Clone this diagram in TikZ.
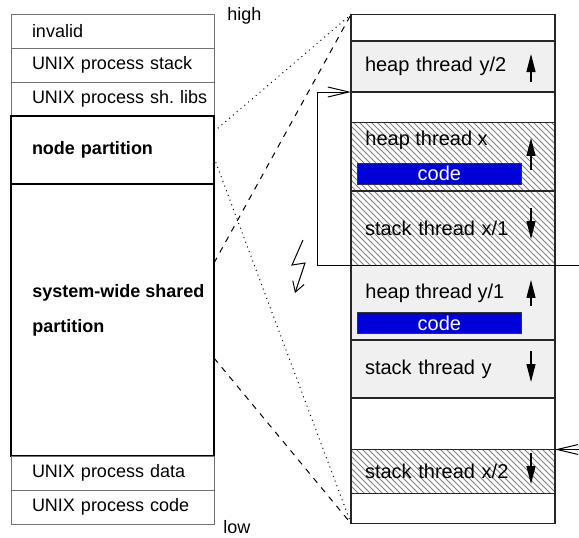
\documentclass[tikz,border=0pt]{standalone}
\usepackage{fontspec}
\setmainfont{Liberation Sans}
\usetikzlibrary{positioning, patterns, arrows.meta}

\begin{document}
\begin{tikzpicture}[x=0.5pt, y=-0.5pt,
    lbox/.style={draw=black!55, line width=0.5pt, rectangle, minimum width=101.5pt, minimum height=17pt, inner sep=0pt, outer sep=0pt, text width=101.5pt, align=left, font=\fontsize{9}{11}\selectfont, execute at begin node={\hspace*{10.5pt}}},
    partbox/.style={lbox, draw=black, line width=0.8pt, font=\fontsize{9}{11}\selectfont\bfseries},
    ltext/.style={inner sep=0pt, align=left, font=\fontsize{9}{11}\selectfont},
    rbox/.style={draw=black!85, line width=0.6pt, rectangle, minimum width=102pt, inner sep=0pt, outer sep=0pt, text width=102pt, align=left, font=\fontsize{10}{12}\selectfont, execute at begin node={\hspace*{7pt}}},
    greybox/.style={rbox, fill=black!6},
    hatched/.style={rbox, pattern=north west lines, pattern color=black!50},
    rtext/.style={inner sep=0pt, font=\fontsize{10}{12}\selectfont},
    codebox/.style={draw=black!80, line width=0.5pt, fill=blue!85!black, text=white, minimum width=81.65pt, minimum height=10.35pt, inner sep=0pt, outer sep=0pt, font=\fontsize{10}{12}\selectfont},
    growarrow/.style={-{Triangle[length=9pt, width=4.5pt]}, line width=0.6pt},
    moveline/.style={-{Straight Barb[length=10.5pt, width=5pt]}, line width=0.5pt}
]
    \useasboundingbox (0,0) rectangle (579,537);

    % left column: address space of the UNIX process
    \node[lbox, anchor=north west] (invalid) at (11,14) {invalid};
    \node[lbox, below=0pt of invalid] (ustack) {UNIX process stack};
    \node[lbox, below=0pt of ustack] (shlibs) {UNIX process sh.\ libs};
    \node[partbox, minimum height=34pt, below=0pt of shlibs] (nodepart) {node partition};
    \node[partbox, minimum height=136pt, below=0pt of nodepart] (shared) {};
    \node[ltext, font=\fontsize{9}{11}\selectfont\bfseries, right=10.5pt of shared.west, yshift=4.6pt] (sharedlbl) {system-wide shared\\[6.5pt]partition};
    \node[lbox, below=0pt of shared] (udata) {UNIX process data};
    \node[lbox, below=0pt of udata] (ucode) {UNIX process code};

    % address labels
    \node[ltext, right=6.5pt of invalid.north east, yshift=-1pt] (high) {high};
    \node[ltext, right=4.5pt of ucode.south east, yshift=-1.5pt] (low) {low};

    % right column: the node partition in detail
    \node[rbox, minimum height=13.25pt, anchor=north west] (rtop) at (351,14.5) {};
    \node[greybox, minimum height=25.5pt, below=0pt of rtop] (heapytwo) {heap thread y/2};
    \node[rbox, minimum height=15.25pt, below=0pt of heapytwo] (gapone) {};
    \node[hatched, minimum height=34.25pt, below=0pt of gapone] (heapx) {};
    \node[hatched, minimum height=37.25pt, below=0pt of heapx] (stackxone) {stack thread x/1};
    \node[greybox, minimum height=37.25pt, below=0pt of stackxone] (heapyone) {};
    \node[greybox, minimum height=29pt, below=0pt of heapyone] (stacky) {stack thread y};
    \node[rbox, minimum height=25.75pt, below=0pt of stacky] (gaptwo) {};
    \node[hatched, minimum height=22pt, below=0pt of gaptwo] (stackxtwo) {stack thread x/2};
    \node[rbox, minimum height=15pt, below=0pt of stackxtwo] (rbottom) {};

    % heaps with their code
    \node[rtext, right=7pt of heapx.north west, yshift=-8.75pt] (heapxlbl) {heap thread x};
    \node[codebox, above right=3.5pt and 3.35pt of heapx.south west] (codex) {code};
    \node[rtext, right=7pt of heapyone.north west, yshift=-13.75pt] (heapyonelbl) {heap thread y/1};
    \node[codebox, above right=3.35pt and 3.35pt of heapyone.south west] (codey) {code};

    % growth directions
    \draw[growarrow] ([xshift=-12pt, yshift=-7.75pt]heapytwo.east) -- ([xshift=-12pt, yshift=6.25pt]heapytwo.east);
    \draw[growarrow] ([xshift=-12pt, yshift=-6.6pt]heapx.east) -- ([xshift=-12pt, yshift=9.4pt]heapx.east);
    \draw[growarrow] ([xshift=-12pt, yshift=10.1pt]stackxone.east) -- ([xshift=-12pt, yshift=-5.4pt]stackxone.east);
    \draw[growarrow] ([xshift=-12pt, yshift=-1.6pt]heapyone.east) -- ([xshift=-12pt, yshift=11.4pt]heapyone.east);
    \draw[growarrow] ([xshift=-12pt, yshift=9pt]stacky.east) -- ([xshift=-12pt, yshift=-6.5pt]stacky.east);
    \draw[growarrow] ([xshift=-12pt, yshift=9.25pt]stackxtwo.east) -- ([xshift=-12pt, yshift=-6.25pt]stackxtwo.east);

    % migration of thread x
    \coordinate (migstart) at (579,265.5);
    \draw[moveline] (migstart) -- ++(-262,0) |- (heapytwo.south west);
    \coordinate (refstart) at (579,449.5);
    \draw[moveline] (refstart) -- (stackxtwo.north east);

    % lightning
    \draw[-{Straight Barb[length=5pt, width=6pt]}, line width=0.5pt] (303,240) -- (292,265) -- (305,263) -- (295,293);

    % mapping of the partitions
    \draw[dotted, line width=0.5pt] ([yshift=-7.75pt]nodepart.north east) -- (rtop.north west);
    \draw[dotted, line width=0.5pt] ([yshift=-20.75pt]nodepart.north east) -- (rbottom.south west);
    \draw[dashed, line width=0.5pt] ([yshift=-39.5pt]shared.north east) -- (rtop.north west);
    \draw[dashed, line width=0.5pt] ([yshift=-87pt]shared.north east) -- (rbottom.south west);
\end{tikzpicture}
\end{document}
